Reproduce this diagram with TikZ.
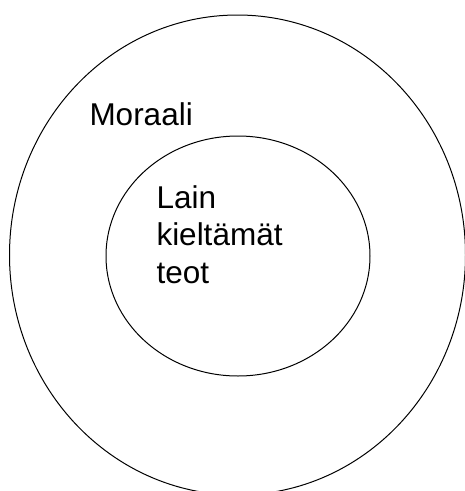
\documentclass[tikz,border=0pt]{standalone}
\usepackage{fontspec}
\setmainfont{Liberation Sans}
\usetikzlibrary{shapes.geometric,positioning}
\tikzset{
every path/.style={color=black,line width=1pt},
piiri/.style={ellipse, draw, inner sep=0pt}, % the two nested sets
teksti/.style={inner sep=0pt, align=left, font=\fontsize{31.5}{37.2}\selectfont},
}

\begin{document}
\begin{tikzpicture}[x=1pt,y=-1pt]
   \useasboundingbox (0,0) rectangle (465,491);
   \node[piiri, minimum width=456pt, minimum height=480pt] (moraali) at (237.5,255) {};
   \node[piiri, minimum width=264pt, minimum height=240pt] (laki) at (238,256) {};
   \node[teksti, anchor=base west] (moraaliteksti) at (89,125) {Moraali};
   % base of a multi-line node is its last line
   \node[teksti, anchor=base west] (lakiteksti) at (156,283) {Lain\\kieltämät\\teot};
\end{tikzpicture}
\end{document}
